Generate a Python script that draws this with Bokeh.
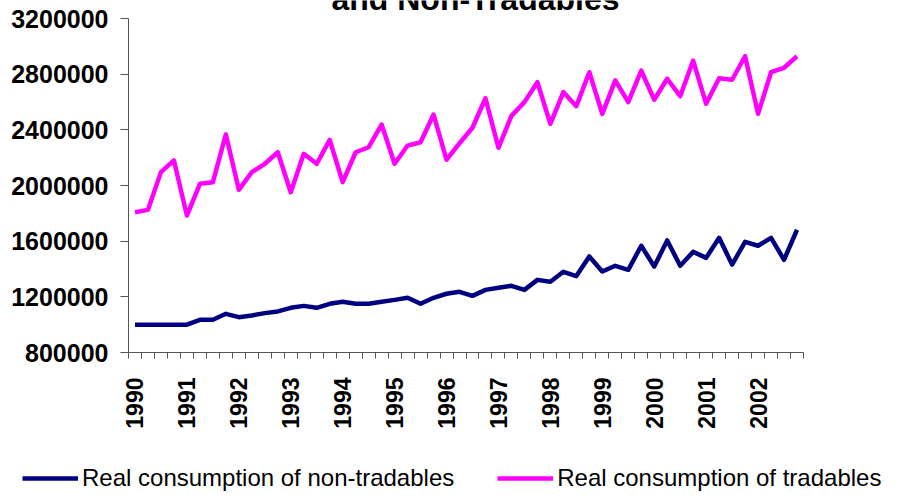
import math
from bokeh.plotting import figure
from bokeh.models import (FixedTicker, Legend, LegendItem, Label,
                          ColumnDataSource, LinearAxis)
from bokeh.embed import file_html
from bokeh.resources import INLINE

# ---- data ----
years = ["1990", "1991", "1992", "1993", "1994", "1995", "1996",
         "1997", "1998", "1999", "2000", "2001", "2002"]
quarters = [f"{y}Q{q}" for y in years for q in range(1, 5)]

tradables = [
    1808000, 1825000, 2096000, 2180000, 1784000, 2012000, 2024000, 2367000,
    1969000, 2096000, 2156000, 2239000, 1952000, 2228000, 2156000, 2328000,
    2024000, 2239000, 2275000, 2438000, 2156000, 2287000, 2311000, 2510000,
    2185000, 2304000, 2415000, 2627000, 2271000, 2500000, 2599000, 2742000,
    2443000, 2671000, 2570000, 2814000, 2515000, 2755000, 2599000, 2826000,
    2616000, 2767000, 2642000, 2898000, 2587000, 2771000, 2760000, 2929000,
    2515000, 2814000, 2846000, 2929000,
]
non_tradables = [
    1000000, 1000000, 1000000, 1000000, 1000000, 1035000, 1035000, 1078000,
    1054000, 1066000, 1083000, 1095000, 1121000, 1135000, 1121000, 1150000,
    1164000, 1150000, 1150000, 1164000, 1178000, 1193000, 1150000, 1193000,
    1222000, 1236000, 1207000, 1250000, 1265000, 1279000, 1250000, 1322000,
    1308000, 1380000, 1349000, 1490000, 1382000, 1423000, 1394000, 1567000,
    1418000, 1605000, 1423000, 1523000, 1480000, 1624000, 1432000, 1595000,
    1567000, 1624000, 1466000, 1682000,
]
y_ticks = [800000, 1200000, 1600000, 2000000, 2400000, 2800000, 3200000]
title_text = "and Non-Tradables"
label_nt = "Real consumption of non-tradables"
label_t = "Real consumption of tradables"

# ---- layout (page pixels) ----
FRAME_W, FRAME_H = 899, 494          # frame covers the whole visible page
PLOT_L, PLOT_R = 128, 803            # plot area edges
PLOT_T, PLOT_B = 18, 352

n = len(quarters)
xpos = [i + 0.5 for i in range(n)]
source = ColumnDataSource(dict(x=xpos, q=quarters, t=tradables, nt=non_tradables))

ux = n / (PLOT_R - PLOT_L)
uy = (y_ticks[-1] - y_ticks[0]) / (PLOT_B - PLOT_T)
x_range = (0 - PLOT_L * ux, n + (FRAME_W - PLOT_R) * ux)
y_range = (y_ticks[0] - (FRAME_H - PLOT_B) * uy, y_ticks[-1] + PLOT_T * uy)

p = figure(width=907, height=502, x_range=x_range, y_range=y_range,
           output_backend="svg", toolbar_location=None,
           x_axis_location=None, y_axis_location=None,
           min_border_left=8, min_border_right=0,
           min_border_top=8, min_border_bottom=0)
p.margin = (-8, 0, 0, -8)
p.outline_line_color = None
p.grid.visible = False
p.background_fill_color = "white"
p.border_fill_color = "white"

r_nt = p.line("x", "nt", source=source, line_color="#000080", line_width=4.5,
              line_join="round")
r_t = p.line("x", "t", source=source, line_color="#FF00FF", line_width=4.5,
             line_join="round")

axis_col = "#555555"

# x axis at the 800000 level
year_pos = [xpos[i] for i in range(0, n, 4)]
xaxis = LinearAxis(fixed_location=y_ticks[0], bounds=(0, n))
xaxis.ticker = FixedTicker(ticks=year_pos, minor_ticks=list(range(n + 1)))
xaxis.major_label_overrides = {pos: y for pos, y in zip(year_pos, years)}
xaxis.major_tick_out = 0
xaxis.major_tick_in = 0
xaxis.minor_tick_out = 6
xaxis.minor_tick_in = 0
xaxis.minor_tick_line_color = axis_col
xaxis.axis_line_color = axis_col
xaxis.major_label_orientation = math.pi / 2
xaxis.major_label_standoff = 19
xaxis.major_label_text_font = "Liberation Sans"
xaxis.major_label_text_font_style = "bold"
xaxis.major_label_text_font_size = "23px"
xaxis.major_label_text_color = "black"
p.add_layout(xaxis, "below")

# y axis at the first quarter boundary
yaxis = LinearAxis(fixed_location=0, bounds=(y_ticks[0], y_ticks[-1]))
yaxis.ticker = FixedTicker(ticks=y_ticks, minor_ticks=[])
yaxis.major_label_overrides = {v: str(v) for v in y_ticks}
yaxis.major_tick_out = 8
yaxis.major_tick_in = 0
yaxis.major_tick_line_color = axis_col
yaxis.axis_line_color = axis_col
yaxis.major_label_standoff = 12
yaxis.major_label_text_font = "Liberation Sans"
yaxis.major_label_text_font_style = "bold"
yaxis.major_label_text_font_size = "25px"
yaxis.major_label_text_color = "black"
p.add_layout(yaxis, "left")

# title (only its lower part is visible at the top edge, as in the source)
p.add_layout(Label(x=475, y=FRAME_H + 2, x_units="screen", y_units="screen",
                   text=title_text, text_align="center",
                   text_baseline="alphabetic", text_font="Liberation Sans",
                   text_font_style="bold", text_font_size="32px",
                   text_color="black"))

legend = Legend(items=[LegendItem(label=label_nt, renderers=[r_nt]),
                       LegendItem(label=label_t, renderers=[r_t])],
                orientation="horizontal", location=(22, 2),
                glyph_width=56, glyph_height=20, label_standoff=4,
                spacing=43, padding=0, margin=0,
                border_line_color=None, background_fill_alpha=0,
                label_text_font="Liberation Sans",
                label_text_font_size="24px", label_text_color="black")
p.add_layout(legend)

open("out.html", "w").write(file_html(p, INLINE))
